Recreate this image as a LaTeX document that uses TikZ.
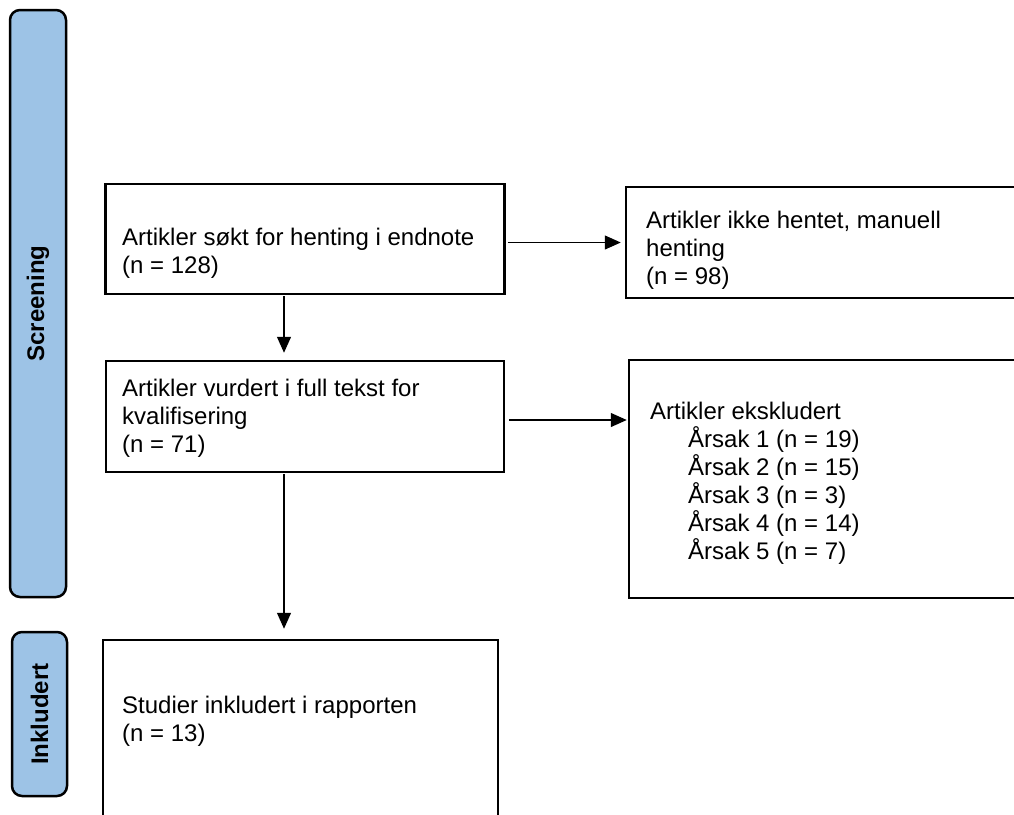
\documentclass[tikz,border=0pt]{standalone}
\usepackage{fontspec}
\setmainfont{Liberation Sans}
\usetikzlibrary{arrows.meta}

\definecolor{stageblue}{RGB}{157,195,230}

\begin{document}
\begin{tikzpicture}[x=1pt, y=-1pt,
    stage/.style={draw=black, fill=stageblue, line width=2.5pt, rounded corners=10pt,
      inner sep=0pt, font=\fontsize{24}{28}\selectfont\bfseries},
    flowbox/.style={draw=black, line width=2.5pt, inner sep=0pt},
    boxtext/.style={anchor=north west, align=left, inner sep=0pt,
      font=\fontsize{24}{28}\selectfont},
    flow/.style={line width=1.3pt, -{Triangle[length=16pt, width=14pt]}}]
    \clip (0,0) rectangle (1014,814);

    % Stages on the left
    \node[stage, rotate=90, minimum width=587pt, minimum height=56pt] (screening) at (38, 303.5) {Screening};
    \node[stage, rotate=90, minimum width=164pt, minimum height=55pt] (inkl) at (39.5, 714) {Inkludert};

    % Boxes
    \node[flowbox, minimum width=399pt, minimum height=110pt] (sokt) at (305, 239) {};
    \node[flowbox, minimum width=404pt, minimum height=111pt] (ikke) at (828, 242.5) {};
    \node[flowbox, minimum width=398pt, minimum height=111pt] (vurdert) at (305, 416.5) {};
    \node[flowbox, minimum width=401pt, minimum height=238pt] (eksk) at (829.5, 479) {};
    \node[flowbox, minimum width=395pt, minimum height=200pt] (studier) at (300.5, 740) {};

    % Box texts
    \node[boxtext] (soktnote) at (122, 228) {Artikler søkt for henting i endnote\\(n = 128)};
    \node[boxtext] (ikkenote) at (646, 211) {Artikler ikke hentet, manuell\\henting\\(n = 98)};
    \node[boxtext] (vurdnote) at (122, 379) {Artikler vurdert i full tekst for\\kvalifisering\\(n = 71)};
    \node[boxtext] (ekskinfo) at (650, 402) {Artikler ekskludert\\
      \hspace*{38pt}Årsak 1 (n = 19)\\
      \hspace*{38pt}Årsak 2 (n = 15)\\
      \hspace*{38pt}Årsak 3 (n = 3)\\
      \hspace*{38pt}Årsak 4 (n = 14)\\
      \hspace*{38pt}Årsak 5 (n = 7)};
    \node[boxtext] (studnote) at (122, 696) {Studier inkludert i rapporten\\(n = 13)};

    % Arrows
    \coordinate (spine) at (284, 0);
    \draw[flow, shorten <=1pt, shorten >=7pt] (sokt.south -| spine) -- (vurdert.north -| spine);
    \draw[flow, shorten <=1pt, shorten >=10pt] (vurdert.south -| spine) -- (studier.north -| spine);
    \draw[flow, shorten <=2pt, shorten >=4pt] (sokt.east |- ikke.west) -- (ikke.west);
    \draw[flow, shorten <=4pt, shorten >=1pt] ([yshift=-3.5pt]vurdert.east) -- ([yshift=-3.5pt]vurdert.east -| eksk.west);
\end{tikzpicture}
\end{document}
